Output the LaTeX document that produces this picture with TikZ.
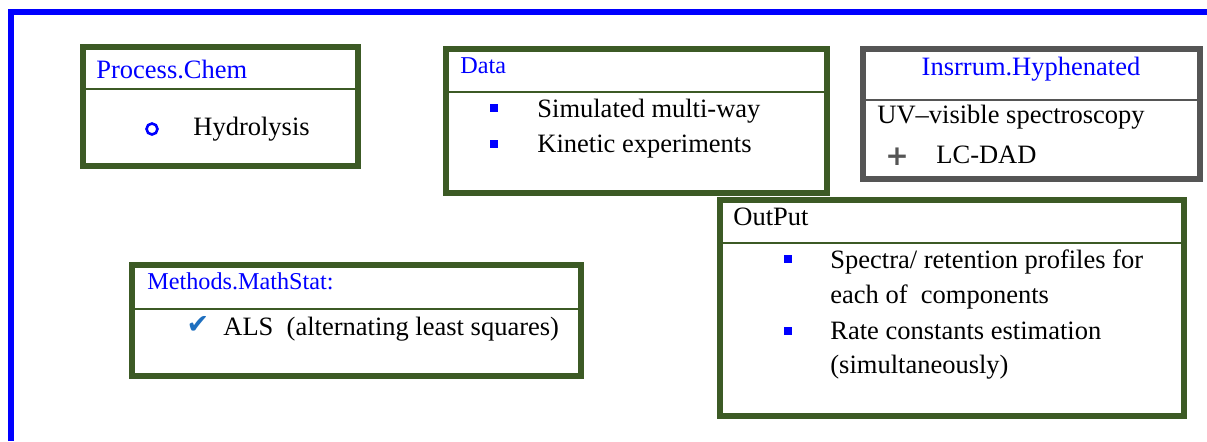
\documentclass[tikz,border=0pt]{standalone}
\usepackage{fontspec}
\setmainfont{Liberation Serif}
\newfontfamily\symfont{DejaVu Sans}
\usepackage{tikz}
\definecolor{panelgreen}{HTML}{3C5A25}
\definecolor{panelgrey}{HTML}{555555}
\definecolor{checkblue}{HTML}{1E6FBF}
\tikzset{
 panel/.style={line width=3pt, inner sep=0pt, outer sep=0pt, anchor=north west, fill=white},
 txt/.style={anchor=base west, inner sep=0pt, font=\fontsize{13.25}{16}\selectfont},
 ttl/.style={txt, text=blue},
 smallttl/.style={ttl, font=\fontsize{12.1}{14}\selectfont},
 sqbullet/.style={fill=blue, minimum size=4pt, inner sep=0pt}
}
\newcommand{\panelbox}[6]{%
 \node[panel, draw=#6, minimum width=#3*0.5pt, minimum height=#4*0.5pt] (#1) at (#2) {};%
 \draw[#6, line width=1pt] ([yshift=-#5*0.5pt]#1.north west) -- ([yshift=-#5*0.5pt]#1.north east);%
}
\begin{document}
\begin{tikzpicture}[x=0.5pt, y=-0.5pt]
   \useasboundingbox (0,0) rectangle (1207,441);
   \draw[blue, line width=3pt] (11,441) -- (11,12) -- (1207,12);
   % boxes
   \panelbox{proc}{83,47}{275}{119}{42}{panelgreen};
   \panelbox{data}{446,49}{381}{144}{43}{panelgreen};
   \panelbox{instr}{863,49}{337}{130}{51}{panelgrey};
   \panelbox{meth}{132,265}{449}{111}{44}{panelgreen};
   \panelbox{outp}{720,200}{464}{216}{43}{panelgreen};
   % Process.Chem
   \node[ttl] (proctitle) at (96,78) {Process.Chem};
   \node[circle, draw=blue, line width=1.3pt, minimum size=5.5pt, inner sep=0pt] (hbul) at (152,129) {};
   \node[txt] (hydro) at (193,135) {Hydrolysis};
   % Data
   \node[smallttl] (datatitle) at (460,73) {Data};
   \node[sqbullet] (db1) at (494,108) {};
   \node[txt] (sim) at (537,117) {Simulated multi-way};
   \node[sqbullet] (db2) at (494,144) {};
   \node[txt] (kin) at (537,152) {Kinetic experiments};
   % Insrrum.Hyphenated
   \node[ttl, anchor=base] (instrtitle) at (1031,75) {Insrrum.Hyphenated};
   \node[txt] (uv) at (877,123) {UV--visible spectroscopy};
   \node[anchor=center, inner sep=0pt, text=panelgrey, font=\symfont\bfseries\fontsize{14}{16}\selectfont] (plus) at (897,157) {+};
   \node[txt] (lcdad) at (936,163) {LC-DAD};
   % Methods.MathStat
   \node[smallttl] (methtitle) at (147,289) {Methods.MathStat:};
   \node[anchor=center, inner sep=0pt, text=checkblue, font=\symfont\fontsize{13.5}{16}\selectfont] (chk) at (198,325) {✔};
   \node[txt] (als) at (223,335) {ALS~ (alternating least squares)};
   % OutPut
   \node[txt] (outtitle) at (733,225) {OutPut};
   \node[sqbullet] (ob1) at (788,259) {};
   \node[txt] (spec1) at (830,268) {Spectra/ retention profiles for};
   \node[txt] (spec2) at (830,303) {each of~ components};
   \node[sqbullet] (ob2) at (788,331) {};
   \node[txt] (rate1) at (830,339) {Rate constants estimation};
   \node[txt] (rate2) at (830,373) {(simultaneously)};
\end{tikzpicture}
\end{document}
